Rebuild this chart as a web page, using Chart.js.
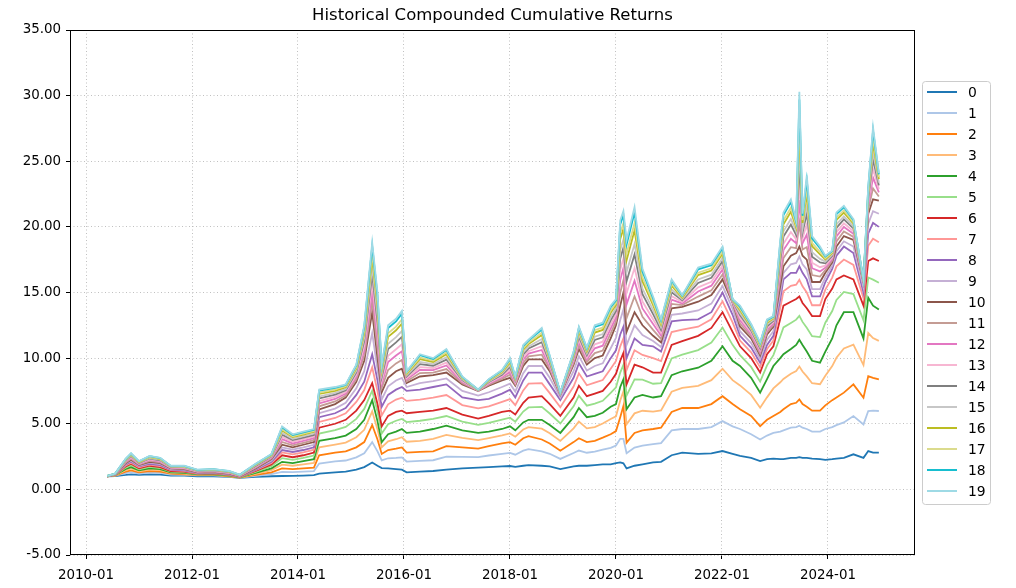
<!DOCTYPE html>
<html>
<head>
<meta charset="utf-8">
<script src="https://cdn.jsdelivr.net/npm/chart.js@4.4.1/dist/chart.umd.min.js"></script>
<style>
  html, body { margin: 0; padding: 0; background: #fff; }
  #wrap { width: 1016px; height: 588px; position: relative; }
</style>
</head>
<body>
<div id="wrap"><canvas id="lineChart"></canvas></div>
<script>
// dates as decimal years
const dates = [2010.40,2010.55,2010.75,2010.85,2011.00,2011.20,2011.40,2011.60,2011.85,2012.10,
  2012.40,2012.70,2012.90,2013.20,2013.50,2013.70,2013.90,2014.10,2014.30,2014.40,
  2014.70,2014.90,2015.10,2015.25,2015.40,2015.50,2015.58,2015.70,2015.85,2015.96,
  2016.05,2016.30,2016.55,2016.80,2017.10,2017.40,2017.60,2017.85,2018.00,2018.10,
  2018.25,2018.35,2018.60,2018.75,2018.95,2019.20,2019.30,2019.45,2019.60,2019.75,
  2019.90,2020.00,2020.08,2020.14,2020.20,2020.35,2020.50,2020.70,2020.85,2021.05,
  2021.25,2021.55,2021.80,2022.01,2022.20,2022.34,2022.55,2022.72,2022.85,2022.97,
  2023.10,2023.16,2023.30,2023.40,2023.46,2023.52,2023.60,2023.70,2023.85,2023.95,
  2024.08,2024.16,2024.30,2024.48,2024.67,2024.76,2024.85,2024.96];

const s0 = [1.00,1.02,1.10,1.15,1.10,1.15,1.12,1.05,1.05,1.00, 1.00,0.95,0.88,0.95,1.00,1.02,1.03,1.05,1.08,1.20,
  1.30,1.35,1.50,1.70,2.05,1.80,1.62,1.60,1.55,1.50, 1.30,1.35,1.40,1.50,1.60,1.65,1.70,1.75,1.78,1.72,
  1.80,1.85,1.80,1.75,1.55,1.75,1.80,1.80,1.85,1.90, 1.90,2.00,2.05,1.98,1.60,1.80,1.90,2.05,2.10,2.60,
  2.80,2.70,2.75,2.92,2.70,2.55,2.40,2.16,2.30,2.35, 2.30,2.30,2.40,2.40,2.45,2.40,2.40,2.35,2.30,2.25,
  2.30,2.35,2.40,2.67,2.40,2.92,2.80,2.80];
const s1 = [1.00,1.04,1.24,1.31,1.21,1.29,1.25,1.13,1.11,1.06, 1.06,0.98,0.89,1.03,1.17,1.34,1.32,1.35,1.39,1.97,
  2.13,2.20,2.44,2.75,3.60,2.90,2.21,2.37,2.40,2.44, 2.12,2.17,2.22,2.49,2.48,2.45,2.58,2.71,2.78,2.64,
  2.95,3.07,2.90,2.71,2.32,2.77,2.96,2.79,2.87,3.02, 3.16,3.34,3.85,3.85,2.75,3.18,3.33,3.45,3.53,4.50,
  4.60,4.60,4.75,5.20,4.80,4.60,4.20,3.80,4.10,4.30, 4.40,4.50,4.70,4.75,4.85,4.70,4.60,4.40,4.40,4.60,
  4.75,4.90,5.10,5.59,4.95,5.97,6.00,5.97];
const s2 = [1.00,1.05,1.35,1.45,1.30,1.40,1.35,1.20,1.15,1.10, 1.10,1.00,0.90,1.10,1.30,1.60,1.55,1.60,1.65,2.60,
  2.80,2.90,3.20,3.60,4.90,3.80,2.70,3.00,3.10,3.20, 2.80,2.85,2.90,3.30,3.20,3.10,3.30,3.50,3.60,3.40,
  3.90,4.06,3.80,3.50,2.95,3.60,3.90,3.60,3.70,3.94, 4.20,4.44,5.50,6.35,3.56,4.30,4.50,4.60,4.70,5.90,
  6.20,6.20,6.50,7.10,6.50,6.10,5.60,4.82,5.30,5.59, 5.90,6.10,6.50,6.60,6.86,6.50,6.30,6.00,6.00,6.40,
  6.80,7.00,7.37,8.00,6.98,8.63,8.50,8.38];
const s3 = [1.00,1.07,1.46,1.59,1.38,1.51,1.46,1.26,1.21,1.13, 1.13,1.03,0.91,1.18,1.47,1.88,1.80,1.90,2.01,3.21,
  3.41,3.56,3.97,4.54,5.95,4.57,3.20,3.66,3.82,3.97, 3.63,3.70,3.84,4.15,3.92,3.76,3.91,4.11,4.26,4.01,
  4.56,4.74,4.63,4.27,3.69,4.65,5.17,4.65,4.75,5.02, 5.36,5.57,6.77,7.47,4.96,5.79,5.99,5.92,6.02,7.44,
  7.74,7.89,8.32,9.19,8.32,7.92,7.20,6.22,7.01,7.69, 8.16,8.41,8.81,9.02,9.36,8.98,8.61,8.09,8.01,8.66,
  9.39,10.03,10.74,11.03,9.47,11.91,11.53,11.31];
const s4 = [1.00,1.08,1.55,1.70,1.45,1.60,1.55,1.30,1.25,1.15, 1.15,1.05,0.92,1.25,1.60,2.10,2.00,2.15,2.30,3.70,
  3.90,4.10,4.60,5.30,6.80,5.20,3.60,4.20,4.40,4.60, 4.30,4.40,4.60,4.85,4.50,4.30,4.40,4.60,4.80,4.50,
  5.10,5.30,5.30,4.90,4.30,5.50,6.20,5.50,5.60,5.84, 6.30,6.50,7.80,8.38,6.10,7.00,7.20,7.00,7.10,8.70,
  9.00,9.27,9.80,10.90,9.80,9.40,8.50,7.37,8.40,9.40, 10.00,10.30,10.70,11.00,11.40,11.00,10.50,9.80,9.65,10.50,
  11.50,12.50,13.50,13.50,11.50,14.60,14.00,13.70];
const s5 = [1.00,1.09,1.66,1.84,1.53,1.71,1.63,1.36,1.31,1.18, 1.19,1.08,0.94,1.33,1.77,2.38,2.25,2.40,2.58,4.25,
  4.51,4.76,5.37,6.13,7.52,5.92,4.26,4.97,5.23,5.37, 5.13,5.23,5.37,5.59,5.16,4.91,5.06,5.32,5.46,5.16,
  5.93,6.24,6.29,5.78,5.02,6.33,7.14,6.38,6.54,6.75, 7.35,7.77,8.90,9.49,7.15,8.38,8.36,8.05,8.09,9.97,
  10.27,10.61,11.18,12.33,11.01,10.23,9.33,8.21,9.45,10.23, 11.65,12.34,12.68,12.93,13.22,12.76,12.31,11.67,11.60,12.70,
  13.59,14.43,15.04,14.88,12.88,16.14,15.98,15.74];
const s6 = [1.00,1.10,1.75,1.95,1.60,1.80,1.70,1.40,1.35,1.20, 1.22,1.10,0.95,1.40,1.90,2.60,2.45,2.60,2.80,4.70,
  5.00,5.30,6.00,6.80,8.10,6.50,4.80,5.60,5.90,6.00, 5.80,5.90,6.00,6.20,5.70,5.40,5.60,5.90,6.00,5.70,
  6.60,7.00,7.10,6.50,5.60,7.00,7.90,7.10,7.30,7.50, 8.20,8.80,9.80,10.40,8.00,9.50,9.30,8.90,8.90,11.00,
  11.30,11.70,12.30,13.50,12.00,10.90,10.00,8.90,10.30,10.90, 13.00,14.00,14.30,14.50,14.70,14.20,13.80,13.20,13.20,14.50,
  15.30,16.00,16.30,16.00,14.00,17.40,17.60,17.40];
const s7 = [1.00,1.11,1.83,2.03,1.68,1.88,1.78,1.46,1.41,1.23, 1.25,1.13,0.96,1.46,2.01,2.82,2.67,2.82,3.02,5.14,
  5.44,5.80,6.66,7.57,9.31,7.49,5.63,6.48,6.84,6.99, 6.74,6.84,6.99,7.19,6.42,6.17,6.32,6.67,6.88,6.42,
  7.54,8.05,8.09,7.33,6.26,7.83,8.84,7.93,8.13,8.33, 9.19,9.79,10.90,11.50,9.10,10.60,10.24,10.00,9.78,11.99,
  12.18,12.39,12.96,14.33,12.72,11.34,10.44,9.31,10.69,11.34, 13.83,15.10,15.51,15.60,15.97,15.47,15.01,14.03,14.03,15.22,
  16.13,16.99,17.51,17.10,14.55,18.56,19.09,18.83];
const s8 = [1.00,1.12,1.90,2.10,1.75,1.95,1.85,1.50,1.45,1.25, 1.28,1.15,0.97,1.50,2.10,3.00,2.85,3.00,3.20,5.50,
  5.80,6.20,7.20,8.20,10.30,8.30,6.30,7.20,7.60,7.80, 7.50,7.60,7.80,8.00,7.00,6.80,6.90,7.30,7.60,7.00,
  8.30,8.90,8.90,8.00,6.80,8.50,9.60,8.60,8.80,9.00, 10.00,10.60,11.80,12.40,10.00,11.50,11.00,10.90,10.50,12.80,
  12.90,12.95,13.50,15.00,13.30,11.70,10.80,9.65,11.00,11.70, 14.50,16.00,16.50,16.50,17.00,16.50,16.00,14.70,14.70,15.80,
  16.80,17.80,18.50,18.00,15.00,19.50,20.30,20.00];
const s9 = [1.00,1.13,1.95,2.18,1.80,2.03,1.93,1.55,1.50,1.28, 1.30,1.18,0.99,1.55,2.20,3.20,3.03,3.20,3.40,5.80,
  6.15,6.60,7.70,9.00,11.90,9.15,6.85,7.85,8.30,8.50, 7.80,8.10,8.25,8.45,7.50,7.15,7.40,7.80,8.05,7.45,
  8.85,9.40,9.40,8.50,7.00,9.00,10.15,9.05,9.40,9.60, 10.75,11.55,12.90,13.70,11.00,12.50,11.75,11.30,10.85,13.30,
  13.40,13.63,14.15,15.50,13.75,12.05,11.15,9.93,11.40,12.05, 15.00,16.50,17.15,17.25,17.75,17.15,16.75,15.25,15.25,16.15,
  17.05,18.15,18.90,18.50,15.40,20.25,21.20,21.00];
const s10 = [1.00,1.14,2.00,2.25,1.85,2.10,2.00,1.60,1.55,1.30, 1.32,1.20,1.00,1.60,2.30,3.40,3.20,3.40,3.60,6.10,
  6.50,7.00,8.20,9.80,13.50,10.00,7.40,8.50,9.00,9.20, 8.10,8.60,8.70,8.90,8.00,7.50,7.90,8.30,8.50,7.90,
  9.40,9.90,9.90,9.00,7.20,9.50,10.70,9.50,10.00,10.20, 11.50,12.50,14.00,15.00,12.00,13.50,12.50,11.70,11.20,13.80,
  13.90,14.30,14.80,16.00,14.20,12.40,11.50,10.20,11.80,12.40, 15.50,17.00,17.80,18.00,18.50,17.80,17.50,15.80,15.80,16.50,
  17.30,18.50,19.30,19.00,15.80,21.00,22.10,22.00];
const s11 = [1.00,1.15,2.05,2.33,1.90,2.17,2.06,1.63,1.59,1.33, 1.35,1.23,1.02,1.65,2.36,3.61,3.35,3.55,3.75,6.33,
  6.70,7.15,8.40,10.21,14.30,10.75,7.72,9.10,9.60,9.86, 8.24,8.86,8.90,9.17,8.09,7.52,7.98,8.42,8.73,8.01,
  9.64,10.13,10.26,9.18,7.23,9.65,10.96,9.70,10.38,10.58, 11.88,12.80,14.98,15.93,13.05,14.70,13.15,12.15,11.46,14.13,
  14.04,14.69,15.16,16.38,14.25,12.64,11.67,10.35,11.97,12.52, 16.03,17.62,18.45,18.38,20.27,18.28,18.46,16.33,16.21,16.70,
  17.44,18.89,19.65,19.24,15.83,21.32,22.93,22.32];
const s12 = [1.01,1.16,2.11,2.40,1.94,2.24,2.12,1.66,1.63,1.36, 1.39,1.26,1.04,1.71,2.42,3.82,3.50,3.70,3.90,6.55,
  6.89,7.30,8.59,10.61,15.09,11.50,8.03,9.70,10.20,10.52, 8.37,9.11,9.09,9.44,8.18,7.53,8.05,8.54,8.95,8.11,
  9.88,10.35,10.62,9.36,7.26,9.80,11.21,9.89,10.75,10.95, 12.25,13.10,15.95,16.86,14.10,15.90,13.79,12.60,11.73,14.46,
  14.17,15.08,15.52,16.75,14.29,12.88,11.83,10.50,12.15,12.64, 16.55,18.23,19.09,18.75,22.04,18.76,19.42,16.85,16.61,16.89,
  17.57,19.28,19.99,19.48,15.86,21.63,23.75,22.63];
const s13 = [1.01,1.17,2.15,2.46,1.98,2.29,2.17,1.68,1.66,1.38, 1.42,1.28,1.05,1.75,2.47,3.99,3.62,3.82,4.02,6.73,
  7.05,7.42,8.75,10.93,15.73,12.10,8.28,10.18,10.68,11.05, 8.48,9.31,9.25,9.66,8.25,7.54,8.11,8.64,9.13,8.19,
  10.07,10.53,10.91,9.50,7.28,9.92,11.41,10.05,11.05,11.25, 12.55,13.34,16.73,17.60,14.94,16.86,14.31,12.96,11.94,14.72,
  14.28,15.39,15.81,17.05,14.33,13.07,11.96,10.62,12.28,12.74, 16.97,18.72,19.61,19.05,23.46,19.14,20.19,17.27,16.93,17.05,
  17.68,19.59,20.27,19.67,15.88,21.88,24.41,22.88];
const s14 = [1.01,1.17,2.19,2.53,2.02,2.35,2.22,1.71,1.69,1.41, 1.45,1.31,1.07,1.79,2.52,4.17,3.75,3.95,4.15,6.93,
  7.22,7.55,8.92,11.29,16.42,12.75,8.56,10.70,11.20,11.62, 8.60,9.54,9.42,9.89,8.33,7.56,8.18,8.74,9.33,8.29,
  10.28,10.73,11.22,9.66,7.31,10.05,11.64,10.22,11.38,11.58, 12.88,13.60,17.58,18.41,15.85,17.90,14.87,13.35,12.16,15.01,
  14.40,15.73,16.12,17.38,14.37,13.28,12.11,10.75,12.43,12.84, 17.43,19.26,20.17,19.38,24.99,19.56,21.02,17.73,17.29,17.22,
  17.80,19.93,20.57,19.88,15.91,22.16,25.13,23.16];
const s15 = [1.01,1.18,2.23,2.58,2.05,2.39,2.26,1.73,1.71,1.43, 1.47,1.33,1.08,1.83,2.56,4.31,3.85,4.05,4.25,7.08,
  7.35,7.65,9.05,11.56,16.95,13.25,8.77,11.10,11.60,12.06, 8.69,9.71,9.55,10.07,8.39,7.57,8.23,8.82,9.48,8.36,
  10.44,10.88,11.46,9.78,7.33,10.15,11.81,10.35,11.63,11.83, 13.13,13.80,18.23,19.03,16.55,18.70,15.30,13.65,12.34,15.23,
  14.49,15.99,16.36,17.63,14.40,13.44,12.22,10.85,12.55,12.92, 17.78,19.67,20.60,19.63,26.17,19.88,21.66,18.08,17.56,17.35,
  17.89,20.19,20.80,20.04,15.93,22.37,25.68,23.37];
const s16 = [1.02,1.19,2.27,2.64,2.08,2.45,2.31,1.76,1.75,1.46, 1.50,1.36,1.09,1.87,2.61,4.49,3.98,4.18,4.38,7.27,
  7.51,7.78,9.21,11.91,17.63,13.90,9.04,11.62,12.12,12.63, 8.80,9.93,9.71,10.30,8.47,7.58,8.29,8.92,9.67,8.45,
  10.65,11.07,11.77,9.94,7.36,10.28,12.03,10.51,11.95,12.15, 13.45,14.06,19.07,19.84,17.46,19.74,15.85,14.04,12.57,15.52,
  14.60,16.33,16.67,17.95,14.43,13.65,12.36,10.98,12.70,13.02, 18.23,20.20,21.15,19.95,27.70,20.30,22.49,18.53,17.91,17.51,
  18.00,20.53,21.09,20.25,15.96,22.64,26.39,23.64];
const s17 = [1.02,1.19,2.30,2.68,2.11,2.48,2.34,1.77,1.76,1.47, 1.52,1.37,1.10,1.90,2.64,4.59,4.05,4.25,4.45,7.38,
  7.61,7.85,9.31,12.10,18.01,14.25,9.19,11.90,12.40,12.94, 8.87,10.05,9.81,10.43,8.51,7.59,8.33,8.98,9.78,8.50,
  10.76,11.18,11.94,10.02,7.37,10.35,12.15,10.61,12.13,12.33, 13.63,14.20,19.53,20.27,17.95,20.30,16.16,14.25,12.69,15.67,
  14.67,16.51,16.84,18.13,14.46,13.76,12.44,11.05,12.78,13.08, 18.48,20.49,21.46,20.13,28.53,20.52,22.94,18.78,18.10,17.61,
  18.07,20.71,21.26,20.36,15.97,22.79,26.78,23.79];
const s18 = [1.02,1.20,2.33,2.73,2.14,2.53,2.38,1.79,1.79,1.49, 1.54,1.39,1.11,1.93,2.68,4.73,4.15,4.35,4.55,7.53,
  7.74,7.95,9.44,12.37,18.54,14.75,9.40,12.30,12.80,13.38, 8.96,10.22,9.94,10.61,8.57,7.60,8.38,9.06,9.93,8.57,
  10.92,11.33,12.18,10.14,7.39,10.45,12.32,10.74,12.38,12.58, 13.88,14.40,20.18,20.89,18.65,21.10,16.59,14.55,12.86,15.89,
  14.76,16.77,17.08,18.38,14.49,13.92,12.55,11.15,12.89,13.16, 18.83,20.90,21.89,20.38,29.71,20.84,23.58,19.13,18.37,17.74,
  18.16,20.97,21.49,20.52,15.99,23.00,27.33,24.00];
const s19 = [1.02,1.20,2.35,2.75,2.15,2.55,2.40,1.80,1.80,1.50, 1.55,1.40,1.12,1.95,2.70,4.80,4.20,4.40,4.60,7.60,
  7.80,8.00,9.50,12.50,18.80,15.00,9.50,12.50,13.00,13.60, 9.00,10.30,10.00,10.70,8.60,7.60,8.40,9.10,10.00,8.60,
  11.00,11.40,12.30,10.20,7.40,10.50,12.40,10.80,12.50,12.70, 14.00,14.50,20.50,21.20,19.00,21.50,16.80,14.70,12.95,16.00,
  14.80,16.90,17.20,18.50,14.50,14.00,12.60,11.20,12.95,13.20, 19.00,21.10,22.10,20.50,30.30,21.00,23.90,19.30,18.50,17.80,
  18.20,21.10,21.60,20.60,16.00,23.10,27.60,24.10];

const seriesNames = ['0','1','2','3','4','5','6','7','8','9','10','11','12','13','14','15','16','17','18','19'];
const seriesValues = [s0,s1,s2,s3,s4,s5,s6,s7,s8,s9,s10,s11,s12,s13,s14,s15,s16,s17,s18,s19];
const xTickYears = [2010, 2012, 2014, 2016, 2018, 2020, 2022, 2024];
const yTicks = [-5, 0, 5, 10, 15, 20, 25, 30, 35];

const tab20 = ['#1f77b4','#aec7e8','#ff7f0e','#ffbb78','#2ca02c','#98df8a','#d62728','#ff9896',
  '#9467bd','#c5b0d5','#8c564b','#c49c94','#e377c2','#f7b6d2','#7f7f7f','#c7c7c7',
  '#bcbd22','#dbdb8d','#17becf','#9edae5'];

const FONT = 'DejaVu Sans';

// title, frame and legend box like matplotlib
const mplDecor = {
  id: 'mplDecor',
  afterDatasetsDraw(chart) {
    const ctx = chart.ctx, a = chart.chartArea;
    ctx.save();
    ctx.strokeStyle = '#000';
    ctx.lineWidth = 1;
    ctx.strokeRect(a.left + 0.5, a.top + 0.5, a.right - a.left - 1, a.bottom - a.top - 1);
    ctx.restore();
  },
  afterDraw(chart) {
    const ctx = chart.ctx, a = chart.chartArea;
    ctx.save();
    ctx.fillStyle = '#000';
    ctx.font = '16.5px "' + FONT + '"';
    ctx.textAlign = 'center';
    ctx.textBaseline = 'middle';
    ctx.fillText('Historical Compounded Cumulative Returns', (a.left + a.right) / 2, 16);

    // legend
    const bx = 922, by = 81, bw = 68, bh = 423;
    ctx.fillStyle = 'rgba(255,255,255,0.8)';
    ctx.strokeStyle = '#cccccc';
    ctx.lineWidth = 1;
    ctx.beginPath();
    ctx.roundRect(bx + 0.5, by + 0.5, bw, bh, 3);
    ctx.fill();
    ctx.stroke();
    ctx.font = '13.9px "' + FONT + '"';
    ctx.textAlign = 'left';
    chart.data.datasets.forEach((ds, i) => {
      const y = 92 + i * 21;
      ctx.strokeStyle = ds.borderColor;
      ctx.lineWidth = 2;
      ctx.beginPath();
      ctx.moveTo(927, y);
      ctx.lineTo(957, y);
      ctx.stroke();
      ctx.fillStyle = '#000';
      ctx.fillText(ds.label, 968, y + 1);
    });
    ctx.restore();
  }
};

const datasets = seriesValues.map((vals, k) => ({
  label: seriesNames[k],
  data: dates.map((d, i) => ({ x: d, y: vals[i] })),
  borderColor: tab20[k],
  backgroundColor: tab20[k],
  borderWidth: 1.8,
  pointRadius: 0,
  tension: 0,
  fill: false,
  order: 19 - k
}));

const gridOpts = {
  color: '#b0b0b0',
  lineWidth: 0.8,
  tickLength: 4,
  tickColor: '#000',
  tickBorderDash: [],
  tickWidth: 1
};

const CHART = document.getElementById('lineChart');
const lineChart = new Chart(CHART, {
  type: 'line',
  data: { datasets: datasets },
  options: {
    responsive: true,
    maintainAspectRatio: false,
    animation: false,
    devicePixelRatio: 1,
    layout: { padding: { left: 0, right: 101, top: 30, bottom: 0 } },
    plugins: { legend: { display: false }, tooltip: { enabled: false } },
    scales: {
      x: {
        type: 'linear',
        min: 2009.698,
        max: 2025.642,
        afterBuildTicks: (s) => { s.ticks = xTickYears.map(v => ({ value: v })); },
        afterFit: (s) => { s.height = 33; },
        ticks: {
          color: '#000',
          font: { family: FONT, size: 13.4 },
          padding: 8,
          maxRotation: 0,
          autoSkip: false,
          callback: (v) => v + '-01'
        },
        grid: gridOpts,
        border: { display: false, dash: [1, 2.5] }
      },
      y: {
        min: -5,
        max: 35,
        afterBuildTicks: (s) => { s.ticks = yTicks.map(v => ({ value: v })); },
        afterFit: (s) => { s.width = 70; },
        ticks: {
          color: '#000',
          font: { family: FONT, size: 13.4 },
          padding: 5,
          callback: (v) => Number(v).toFixed(2)
        },
        grid: gridOpts,
        border: { display: false, dash: [1, 2.5] }
      }
    }
  },
  plugins: [mplDecor]
});
</script>
</body>
</html>
